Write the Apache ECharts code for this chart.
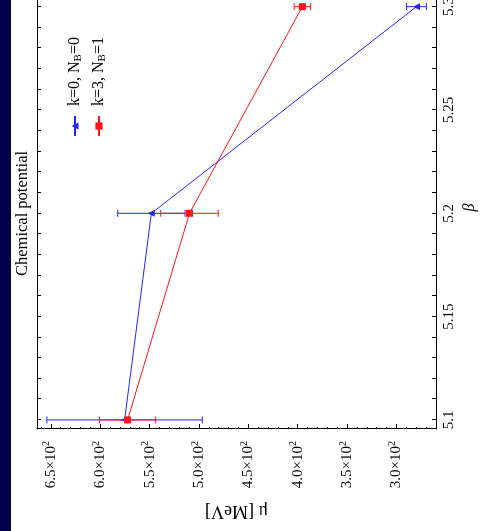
<!DOCTYPE html>
<html lang="en">
<head>
<meta charset="UTF-8">
<title>Chemical potential</title>
<script src="https://cdn.jsdelivr.net/npm/echarts@6/dist/echarts.min.js"></script>
<style>
    html,
    body {
        margin: 0;
        padding: 0;
        width: 481px;
        height: 531px;
        overflow: hidden;
        background: #fff;
    }

    #band {
        position: absolute;
        left: 0;
        top: 0;
        width: 11px;
        height: 531px;
        background: #000048;
    }

    /* the chart is laid out upright and turned a quarter left */
    #container {
        position: absolute;
        left: 0;
        top: 0;
        width: 551px;
        height: 481px;
        transform-origin: 0 0;
        transform: translateY(531px) rotate(-90deg);
    }
</style>
</head>
<body>
<div id="container"></div>
<div id="band"></div>
<script>
    const betas = [5.1, 5.2, 5.3];
    const muK0 = [575.3, 548.2, 279.8];
    const errK0 = [78.7, 34.1, 10.1];
    const muK3 = [572.3, 509.6, 395.3];
    const errK3 = [28.5, 29.1, 8.3];
    const betaTicks = [5.1, 5.15, 5.2, 5.25, 5.3];
    const muTicks = [300, 350, 400, 450, 500, 550, 600, 650];
    const names = ['k=0, N_B=0', 'k=3, N_B=1'];

    const font = 'Liberation Serif';
    const blue = '#2424ff';
    const red = '#ff1414';
    const betaMin = 5.0956, betaMax = 5.31;
    const muMin = 260, muMax = 664;

    function steps(from, to, step) {
        let out = [];
        for (let v = from; v <= to + step / 1000; v += step) {
            out.push(+v.toFixed(4));
        }
        return out;
    }
    let betaMinor = steps(betaTicks[0], betaTicks[betaTicks.length - 1], 0.01);
    let muMinor = steps(270, 660, 10);

    function errorBars(color) {
        return (params, api) => {
            let x = api.value(0), y = api.value(1), e = api.value(2);
            let lo = api.coord([x, y - e]);
            let hi = api.coord([x, y + e]);
            let w = 3.5;
            let style = { stroke: color, lineWidth: 1 };
            return {
                type: 'group',
                children: [
                    { type: 'line', shape: { x1: lo[0], y1: lo[1], x2: hi[0], y2: hi[1] }, style: style },
                    { type: 'line', shape: { x1: lo[0] - w, y1: lo[1], x2: lo[0] + w, y2: lo[1] }, style: style },
                    { type: 'line', shape: { x1: hi[0] - w, y1: hi[1], x2: hi[0] + w, y2: hi[1] }, style: style },
                ],
            };
        };
    }

    let black = { color: '#000', width: 1 };
    let chart = echarts.init(document.getElementById('container'));
    chart.setOption({
        animation: false,
        title: {
            text: 'Chemical potential',
            left: 250,
            top: 9,
            textStyle: { fontFamily: font, fontSize: 16.5, fontWeight: 'normal', color: '#000' },
        },
        legend: {
            orient: 'vertical',
            left: 389,
            top: 62,
            itemWidth: 20,
            itemHeight: 9,
            itemGap: 7,
            data: names,
            formatter: name => name.replace('_B', '{sub|B}'),
            textStyle: {
                fontFamily: font,
                fontSize: 16,
                color: '#000',
                padding: [0, 0, 0, 5],
                rich: {
                    sub: { fontFamily: font, fontSize: 11, color: '#000', padding: [7, 0, 0, 0] },
                },
            },
        },
        grid: {
            left: 102,
            right: 6,
            top: 37,
            bottom: 45,
            outerBoundsMode: 'none',
        },
        xAxis: [{
                type: 'value',
                position: 'bottom',
                min: betaMin,
                max: betaMax,
                axisLine: { onZero: false, lineStyle: black },
                axisTick: { inside: true, length: 4, customValues: betaMinor, lineStyle: black },
                axisLabel: {
                    customValues: betaTicks,
                    formatter: v => String(+v.toFixed(2)),
                    margin: 6,
                    fontFamily: font,
                    fontSize: 15,
                    color: '#000',
                },
                splitLine: { show: false },
                name: 'β',
                nameLocation: 'middle',
                nameGap: 23,
                nameTextStyle: { fontFamily: font, fontStyle: 'italic', fontSize: 16, color: '#000' },
            },
            {
                type: 'value',
                position: 'top',
                min: betaMin,
                max: betaMax,
                axisLine: { onZero: false, lineStyle: black },
                axisTick: { inside: true, length: 4, customValues: betaMinor, lineStyle: black },
                axisLabel: { show: false },
                splitLine: { show: false },
            },
        ],
        yAxis: [{
                type: 'value',
                position: 'left',
                min: muMin,
                max: muMax,
                axisLine: { show: true, onZero: false, lineStyle: black },
                axisTick: { show: true, inside: true, length: 5, customValues: muTicks, lineStyle: black },
                axisLabel: {
                    customValues: muTicks,
                    formatter: v => (v / 100).toFixed(1) + '×10{sup|2}',
                    margin: 12,
                    fontFamily: font,
                    fontSize: 15,
                    color: '#000',
                    rich: {
                        sup: { fontFamily: font, fontSize: 10, color: '#000', padding: [0, 0, 8, 0] },
                    },
                },
                splitLine: { show: false },
                name: 'μ [MeV]',
                nameLocation: 'middle',
                nameRotate: 90,
                nameGap: 73,
                nameTextStyle: { fontFamily: font, fontSize: 18, color: '#000' },
            },
            {
                type: 'value',
                position: 'left',
                min: muMin,
                max: muMax,
                axisLine: { show: false },
                axisTick: { show: true, inside: true, length: 2, customValues: muMinor, lineStyle: black },
                axisLabel: { show: false },
                splitLine: { show: false },
            },
        ],
        series: [{
                name: names[0],
                type: 'line',
                data: betas.map((b, i) => [b, muK0[i]]),
                symbol: 'triangle',
                symbolSize: 7,
                lineStyle: { color: blue, width: 1 },
                itemStyle: { color: blue },
                z: 3,
            },
            {
                name: names[1],
                type: 'line',
                data: betas.map((b, i) => [b, muK3[i]]),
                symbol: 'rect',
                symbolSize: 7,
                lineStyle: { color: red, width: 1 },
                itemStyle: { color: red },
                z: 3,
            },
            {
                name: 'err0',
                type: 'custom',
                renderItem: errorBars(blue),
                data: betas.map((b, i) => [b, muK0[i], errK0[i]]),
                encode: { x: 0, y: 1 },
                z: 2,
            },
            {
                name: 'err1',
                type: 'custom',
                renderItem: errorBars(red),
                data: betas.map((b, i) => [b, muK3[i], errK3[i]]),
                encode: { x: 0, y: 1 },
                z: 2,
            },
        ],
    });
</script>
</body>
</html>
